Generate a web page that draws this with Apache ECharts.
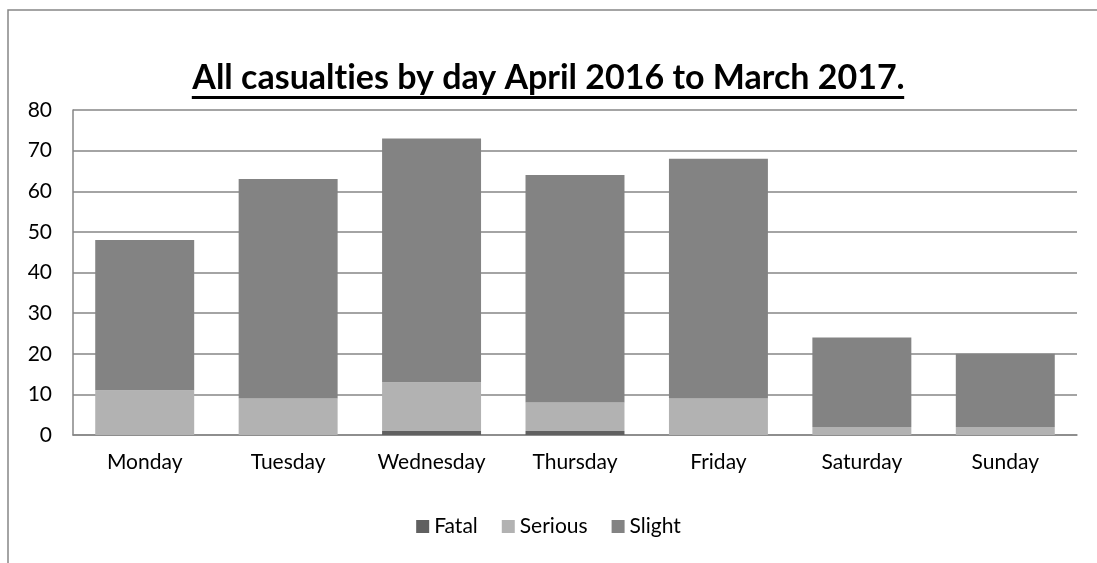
<!DOCTYPE html>
<html>
<head>
<meta charset="utf-8">
<script src="https://cdn.jsdelivr.net/npm/echarts@6/dist/echarts.min.js"></script>
<style>
  html, body { margin: 0; padding: 0; background: #fff; }
  #chart { width: 1097px; height: 563px; }
</style>
</head>
<body>
<div id="chart"></div>
<script>
const days = ["Monday", "Tuesday", "Wednesday", "Thursday", "Friday", "Saturday", "Sunday"];
const fatal = [0, 0, 1, 1, 0, 0, 0];
const serious = [11, 9, 12, 7, 9, 2, 2];
const slight = [37, 54, 60, 56, 59, 22, 18];

// zero-width non-joiner keeps Lato from drawing the "ti" ligature
const titleText = "All casualt\u200Cies by day April 2016 to March 2017.";
const font = "Lato, 'Open Sans', sans-serif";

// measure title so the underline matches its width
const ctx = document.createElement("canvas").getContext("2d");
ctx.font = "bold 34px Lato";
const titleW = ctx.measureText(titleText).width;

const chart = echarts.init(document.getElementById("chart"));

const barSeries = (name, data, color) => ({
  name: name,
  type: "bar",
  stack: "total",
  data: data,
  barCategoryGap: "31%",
  itemStyle: { color: color },
});

chart.setOption({
  animation: false,
  textStyle: { fontFamily: font, color: "#000" },
  title: {
    text: titleText,
    left: "center",
    top: 56,
    textStyle: { fontSize: 34, fontWeight: "bold", color: "#000", fontFamily: font },
  },
  graphic: [
    {
      type: "rect",
      shape: { x: 8, y: 10, width: 1200, height: 700 },
      style: { fill: "none", stroke: "#868686", lineWidth: 1.5 },
      silent: true,
    },
    {
      type: "rect",
      shape: { x: 548 - titleW / 2, y: 96, width: titleW, height: 3 },
      style: { fill: "#000" },
      silent: true,
    },
  ],
  legend: {
    bottom: 21,
    left: "center",
    itemWidth: 13,
    itemHeight: 13,
    itemGap: 24,
    icon: "rect",
    textStyle: { fontSize: 21, color: "#000" },
    data: ["Fatal", "Serious", "Slight"],
  },
  grid: { left: 73, right: 20, top: 110, bottom: 128 },
  xAxis: {
    type: "category",
    data: days,
    axisLine: { lineStyle: { color: "#868686", width: 1.5 } },
    axisTick: { show: false },
    axisLabel: { fontSize: 21, color: "#000", margin: 17 },
  },
  yAxis: {
    type: "value",
    min: 0,
    max: 80,
    interval: 10,
    axisLine: { show: true, lineStyle: { color: "#868686", width: 1.5 } },
    axisTick: { show: false },
    splitLine: { lineStyle: { color: "#868686", width: 1.5 } },
    axisLabel: { fontSize: 21, color: "#000", margin: 21 },
  },
  series: [
    barSeries("Fatal", fatal, "#606060"),
    barSeries("Serious", serious, "#b2b2b2"),
    barSeries("Slight", slight, "#838383"),
  ],
});
</script>
</body>
</html>
